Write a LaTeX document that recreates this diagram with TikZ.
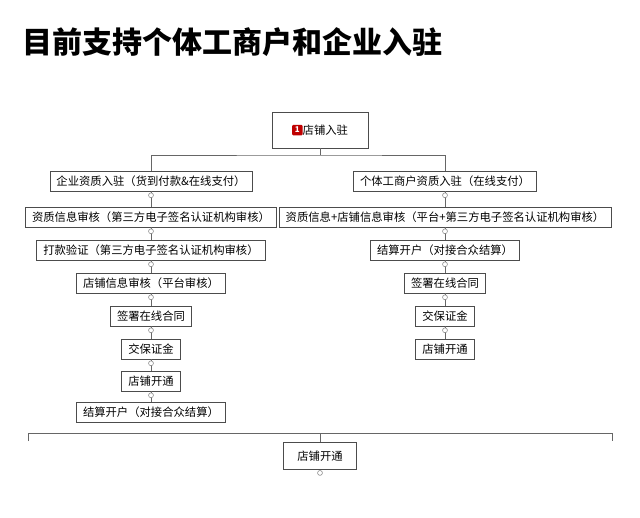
\documentclass[tikz,border=0pt]{standalone}
\usepackage{fontspec}
\setmainfont{Noto Sans CJK SC}
\usetikzlibrary{positioning}
\tikzset{
  stepbox/.style={draw=black!70, fill=white, font=\fontsize{8.5}{10}\selectfont, inner xsep=5pt, minimum height=15pt},
  link/.style={draw=black!60, line width=0.6pt},
  dot/.style={circle, draw=black!50, fill=white, inner sep=1.3pt}
}
\begin{document}
\begin{tikzpicture}[x=0.75pt,y=-0.75pt]
\useasboundingbox[fill=white] (0,0) rectangle (640,518);

%title
\node[anchor=west, font=\bfseries\fontsize{22.5}{26}\selectfont] (title) at (18,42) {目前支持个体工商户和企业入驻};

%top node
\node[stepbox, minimum width=72pt, minimum height=27pt] (top) at (320,130)
  {\tikz[baseline=-3pt]\node[fill=red!75!black, rounded corners=1pt, text=white, font=\fontsize{6}{6}\selectfont\bfseries, inner sep=1.5pt, minimum size=8pt] (badge) {1};店铺入驻};

%left column
\node[stepbox] (l1) at (151,181) {企业资质入驻（货到付款\&在线支付）};
\node[stepbox] (l2) at (151,217) {资质信息审核（第三方电子签名认证机构审核）};
\node[stepbox] (l3) at (151,250) {打款验证（第三方电子签名认证机构审核）};
\node[stepbox] (l4) at (151,283) {店铺信息审核（平台审核）};
\node[stepbox] (l5) at (151,316) {签署在线合同};
\node[stepbox] (l6) at (151,349) {交保证金};
\node[stepbox] (l7) at (151,381) {店铺开通};
\node[stepbox] (l8) at (151,412) {结算开户（对接合众结算）};

%right column
\node[stepbox] (r1) at (445,181) {个体工商户资质入驻（在线支付）};
\node[stepbox] (r2) at (445,217) {资质信息+店铺信息审核（平台+第三方电子签名认证机构审核）};
\node[stepbox] (r3) at (445,250) {结算开户（对接合众结算）};
\node[stepbox] (r4) at (445,283) {签署在线合同};
\node[stepbox] (r5) at (445,316) {交保证金};
\node[stepbox] (r6) at (445,349) {店铺开通};

%bottom node
\node[stepbox, minimum width=55pt, minimum height=20pt] (end) at (320,456) {店铺开通};

%branch lines
\coordinate (split) at (320,155);
\draw[link] (top.south) -- (split);
\draw[link] (l1.north) |- (split) -| (r1.north);

%column links
\foreach \a/\b in {l1/l2,l2/l3,l3/l4,l4/l5,l5/l6,l6/l7,l7/l8,r1/r2,r2/r3,r3/r4,r4/r5,r5/r6}
{
  \draw[link] (\a.south) -- (\b.north);
  \node[dot] at ([yshift=-3pt]\a.south) {};
}

%merge bracket
\coordinate (ml) at (28,433);
\coordinate (mr) at (612,433);
\coordinate (mc) at (320,433);
\draw[link] ([yshift=-6pt]ml) -- (ml) -- (mr) -- ([yshift=-6pt]mr);
\draw[link] (mc) -- (end.north);
\node[dot] at ([yshift=-2.5pt]end.south) {};
\end{tikzpicture}
\end{document}
